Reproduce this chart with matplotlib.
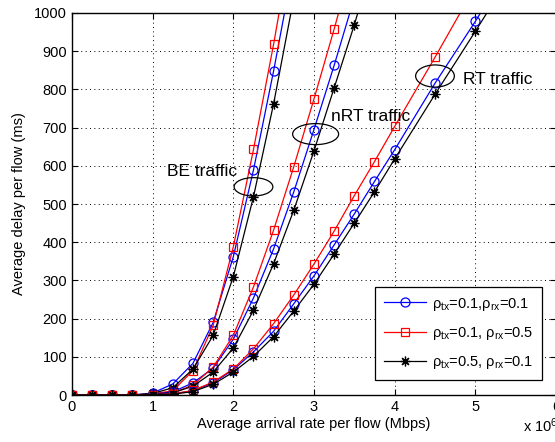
import matplotlib
matplotlib.use('Agg')
import numpy as np
from matplotlib import pyplot as plt
from matplotlib.patches import Ellipse

plt.rcParams['font.family'] = ['Liberation Sans', 'DejaVu Sans']
plt.rcParams['mathtext.fontset'] = 'custom'
plt.rcParams['mathtext.rm'] = 'Liberation Sans'
plt.rcParams['mathtext.it'] = 'Liberation Sans:italic'

# arrival rate (x 10^6), one list per traffic class
x_be = [0, 0.25, 0.5, 0.75, 1, 1.25, 1.5, 1.75, 2, 2.25, 2.5, 2.75]
x_nrt = [0, 0.25, 0.5, 0.75, 1, 1.25, 1.5, 1.75, 2, 2.25, 2.5, 2.75, 3, 3.25, 3.5, 3.75]
x_rt = [0, 0.25, 0.5, 0.75, 1, 1.25, 1.5, 1.75, 2, 2.25, 2.5, 2.75, 3, 3.25, 3.5, 3.75, 4, 4.5, 5, 5.5]

# average delay (ms)
be_a = [0, 0, 0, 0, 5, 29, 83, 190, 362, 589, 849, 1130]
be_b = [0, 0, 0, 0, 3, 11, 64, 182, 388, 643, 919, 1220]
be_c = [0, 0, 0, 0, 4, 19, 68, 156, 310, 519, 763, 1040]

nrt_a = [0, 0, 0, 0, 2, 8, 32, 70, 146, 254, 383, 532, 695, 863, 1040, 1230]
nrt_b = [0, 0, 0, 0, 1, 5, 26, 73, 156, 283, 432, 598, 775, 958, 1150, 1350]
nrt_c = [0, 0, 0, 0, 2, 6, 23, 60, 123, 222, 344, 484, 639, 804, 969, 1150]

rt_a = [0, 0, 0, 0, 1, 3, 11, 32, 66, 113, 167, 239, 312, 393, 474, 559, 642, 816, 978, 1150]
rt_b = [0, 0, 0, 0, 1, 3, 12, 34, 68, 121, 187, 262, 343, 429, 522, 611, 703, 884, 1070, 1260]
rt_c = [0, 0, 0, 0, 1, 2, 9, 28, 60, 101, 153, 220, 290, 369, 450, 532, 618, 787, 952, 1120]

labels = ['ρ$_{\\mathrm{tx}}$=0.1,ρ$_{\\mathrm{rx}}$=0.1',
          'ρ$_{\\mathrm{tx}}$=0.1, ρ$_{\\mathrm{rx}}$=0.5',
          'ρ$_{\\mathrm{tx}}$=0.5, ρ$_{\\mathrm{rx}}$=0.1']

fig = plt.figure(figsize=(5.55, 4.42), dpi=100)
ax = fig.add_axes([0.1297, 0.1063, 0.8721, 0.8643])

# matlab-ish markers: open circle, open square, asterisk
styles = [dict(color='blue', marker='o', ms=6.5, mfc='none'),
          dict(color='red', marker='s', ms=6, mfc='none'),
          dict(color='black', marker=(8, 2, 0), ms=7)]

series = [(be_a, be_b, be_c), (nrt_a, nrt_b, nrt_c), (rt_a, rt_b, rt_c)]
xs = [x_be, x_nrt, x_rt]

for x, group in zip(xs, series):
    for i, y in enumerate(group):
        ax.plot(x, y, lw=0.9, mew=0.9, label=labels[i] if x is x_be else None, **styles[i])

# ellipses around the curve bundles
for cx, cy, w, h in [(2.25, 545, 0.48, 48), (3.02, 683, 0.57, 55), (4.5, 835, 0.48, 58)]:
    ax.add_patch(Ellipse((cx, cy), w, h, fill=False, ec='black', lw=0.9, zorder=5))

ax.text(1.18, 584, 'BE traffic', fontsize=12.5, va='center')
ax.text(3.21, 730, 'nRT traffic', fontsize=12.5, va='center')
ax.text(4.85, 827, 'RT traffic', fontsize=12.5, va='center')

ax.set_xlim(0, 6)
ax.set_ylim(0, 1000)
ax.set_xticks(range(0, 7))
ax.set_yticks(range(0, 1001, 100))
ax.tick_params(direction='in', length=4, labelsize=10.5, top=True, right=True)
ax.grid(True, linestyle=(0, (1, 3.5)), color='black', lw=0.7)
for s in ax.spines.values():
    s.set_linewidth(1.0)

ax.set_xlabel('Average arrival rate per flow (Mbps)', fontsize=10.5, labelpad=2)
ax.set_ylabel('Average delay per flow (ms)', fontsize=10.5, labelpad=6)
fig.text(0.943, 0.022, 'x 10$^6$', fontsize=10.5)

leg = ax.legend(loc='lower right', bbox_to_anchor=(0.971, 0.039), fontsize=10.5,
                fancybox=False, edgecolor='black', framealpha=1, handlelength=2.9,
                handletextpad=0.4, borderpad=0.6, labelspacing=0.85, borderaxespad=0)
leg.get_frame().set_linewidth(0.9)

fig.savefig('out.png', dpi=100)
